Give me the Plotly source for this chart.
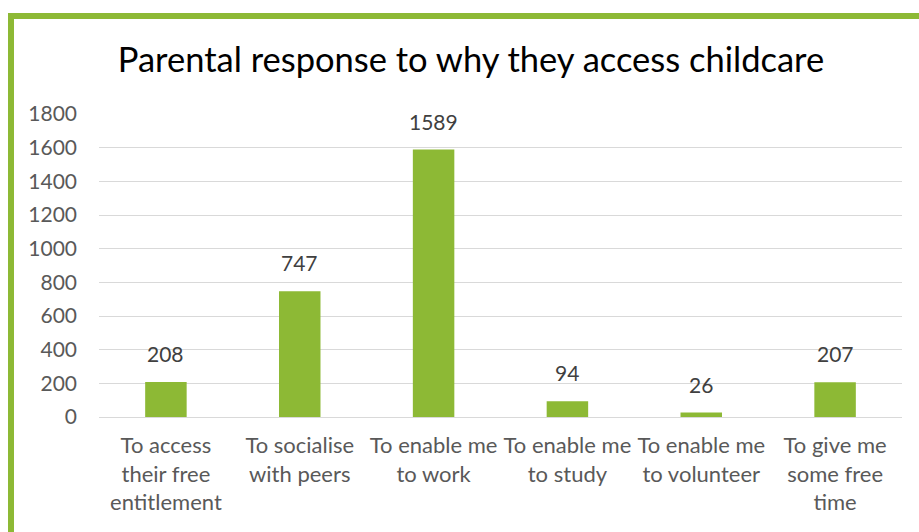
import plotly.graph_objects as go

categories = [
    "To access<br>their free<br>entitlement",
    "To socialise<br>with peers",
    "To enable me<br>to work",
    "To enable me<br>to study",
    "To enable me<br>to volunteer",
    "To give me<br>some free<br>time",
]
values = [208, 747, 1589, 94, 26, 207]
y_ticks = [0, 200, 400, 600, 800, 1000, 1200, 1400, 1600, 1800]

GREEN = "#8DB935"
W, H = 919, 532
ML, MR, MT, MB = 99, 17, 114, 115
PW, PH = W - ML - MR, H - MT - MB

def px_x(p):
    return (p - ML) / PW

def px_y(p):
    return (H - MB - p) / PH

fig = go.Figure()
fig.add_trace(go.Bar(
    x=categories, y=values, marker_color=GREEN, marker_line_width=0,
    hoverinfo="skip",
))

for c, v in zip(categories, values):
    fig.add_annotation(
        x=c, y=v, text=str(v), showarrow=False, yanchor="bottom",
        yshift=14, font=dict(family="Lato", size=21, color="#404040"),
    )

# green chart border (left and top)
fig.add_shape(type="rect", xref="paper", yref="paper",
              x0=px_x(8), x1=px_x(14), y0=px_y(560), y1=px_y(13),
              fillcolor=GREEN, line_width=0, layer="above")
fig.add_shape(type="rect", xref="paper", yref="paper",
              x0=px_x(8), x1=px_x(960), y0=px_y(19), y1=px_y(13),
              fillcolor=GREEN, line_width=0, layer="above")

fig.update_layout(
    width=W, height=H,
    margin=dict(l=ML, r=MR, t=MT, b=MB, pad=0),
    paper_bgcolor="white", plot_bgcolor="white",
    bargap=0.69,
    showlegend=False,
    title=dict(text="Parental response to why they access childcare",
               x=(471) / W, xanchor="center", y=1 - 60 / H, yanchor="middle",
               font=dict(family="Lato", size=34.5, color="#000000")),
    font=dict(family="Lato", size=21, color="#595959"),
    xaxis=dict(showgrid=False, showline=False, ticks="",
               tickfont=dict(family="Lato", size=22, color="#595959"),
               ticklabelstandoff=13, fixedrange=True),
    yaxis=dict(range=[0, 1800], tickvals=y_ticks, showgrid=True,
               gridcolor="#D9D9D9", gridwidth=1, zeroline=True,
               zerolinecolor="#D9D9D9", zerolinewidth=1, showline=False,
               ticks="", ticklabelstandoff=21,
               tickfont=dict(family="Lato", size=21, color="#595959"),
               fixedrange=True),
)

fig.write_html("out.html")
